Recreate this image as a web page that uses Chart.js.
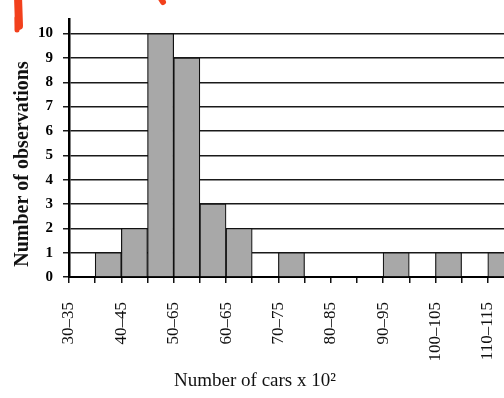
<!DOCTYPE html>
<html>
<head>
<meta charset="utf-8">
<script src="https://cdn.jsdelivr.net/npm/chart.js"></script>
<style>
    html, body { margin: 0; padding: 0; background: #fff; }
    #wrap { width: 504px; height: 398px; }
</style>
</head>
<body>
<div id="wrap"><canvas id="histogram"></canvas></div>
<script>
// labels printed under every second bin edge
const axisLabels = ["30–35", "40–45", "50–65", "60–65", "70–75", "80–85", "90–95", "100–105", "110–115"];
// observations per bin of 5 (30-35, 35-40, ... 110-115)
const observations = [0, 1, 2, 10, 9, 3, 2, 0, 1, 0, 0, 0, 1, 0, 1, 0, 1];
const yTicks = [0, 1, 2, 3, 4, 5, 6, 7, 8, 9, 10];
const xTitle = "Number of cars x 10²";
const yTitle = "Number of observations";

const serif = "'Liberation Serif', 'DejaVu Serif', serif";

// axis titles placed relative to the chart area
const titlesPlugin = {
    id: "titles",
    afterDraw(chart) {
        const { ctx, chartArea } = chart;
        ctx.save();
        ctx.fillStyle = "#111";
        ctx.textAlign = "center";
        ctx.textBaseline = "middle";

        ctx.font = "19px " + serif;
        ctx.fillText(xTitle, chartArea.left + 186, chartArea.bottom + 104);

        ctx.translate(chartArea.left - 46, chartArea.bottom - 113);
        ctx.rotate(-Math.PI / 2);
        ctx.font = "bold 20px " + serif;
        ctx.fillText(yTitle, 0, 0);
        ctx.restore();

        // red pen marks on the scanned page
        ctx.save();
        ctx.strokeStyle = "#f2401c";
        ctx.lineCap = "round";
        ctx.lineWidth = 8;
        ctx.beginPath();
        ctx.moveTo(18, -4);
        ctx.lineTo(19, 26);
        ctx.stroke();
        ctx.lineWidth = 5;
        ctx.beginPath();
        ctx.moveTo(17, 18);
        ctx.lineTo(17, 30);
        ctx.stroke();
        ctx.lineWidth = 6;
        ctx.beginPath();
        ctx.moveTo(160, -3);
        ctx.lineTo(163, 2);
        ctx.stroke();
        ctx.restore();
    },
};

const dataHistogram = {
    datasets: [
        {
            label: "Observations",
            data: observations.map((v, i) => ({ x: i + 0.5, y: v === 0 ? null : v })),
            backgroundColor: "#a8a8a8",
            borderColor: "#111",
            borderWidth: 1.2,
            barPercentage: 1,
            categoryPercentage: 1,
        },
    ],
};

const configHistogram = {
    type: "bar",
    data: dataHistogram,
    plugins: [titlesPlugin],
    options: {
        responsive: true,
        maintainAspectRatio: false,
        animation: false,
        layout: {
            padding: { top: 18, left: 0, right: 0, bottom: 0 },
        },
        plugins: {
            legend: { display: false },
            tooltip: { enabled: false },
        },
        scales: {
            x: {
                type: "linear",
                offset: false,
                min: 0,
                max: 16.62,
                afterFit: (scale) => {
                    scale.height = 121;
                    scale.paddingLeft = 0;
                    scale.paddingRight = 0;
                },
                grid: {
                    offset: false,
                    drawOnChartArea: false,
                    drawTicks: true,
                    tickLength: 6,
                    color: "#111",
                    lineWidth: 1.5,
                },
                border: { color: "#000", width: 2 },
                ticks: {
                    stepSize: 1,
                    includeBounds: false,
                    autoSkip: false,
                    maxRotation: 90,
                    minRotation: 90,
                    padding: 19,
                    color: "#111",
                    font: { family: serif, size: 17 },
                    callback: (value) => (Number.isInteger(value) && value % 2 === 0 ? axisLabels[value / 2] : ""),
                },
            },
            y: {
                min: yTicks[0],
                max: 10.6,
                afterFit: (scale) => { scale.width = 69; },
                grid: {
                    color: "#1a1a1a",
                    lineWidth: 1.5,
                    tickLength: 6,
                },
                border: { color: "#000", width: 2.5 },
                ticks: {
                    stepSize: 1,
                    includeBounds: false,
                    padding: 10,
                    color: "#000",
                    font: { family: serif, size: 15, weight: "bold" },
                    callback: (value) => (yTicks.includes(value) ? String(value) : ""),
                },
            },
        },
    },
};

const chartHistogram = new Chart(document.getElementById("histogram"), configHistogram);
</script>
</body>
</html>
